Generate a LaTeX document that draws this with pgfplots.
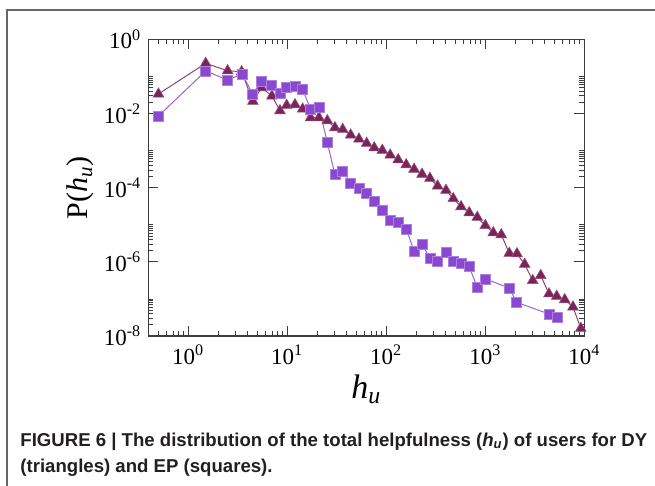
\documentclass[border=0pt]{standalone}
\usepackage{pgfplots}
\pgfplotsset{compat=1.18}
\usepackage{fontspec}
\setmainfont{Liberation Serif}
\newfontfamily\capfont{Liberation Sans}
\definecolor{dycol}{RGB}{122,36,90}
\definecolor{epcol}{RGB}{138,72,208}
\definecolor{axcol}{RGB}{60,60,60}
\definecolor{capcol}{RGB}{35,31,32}
\begin{document}
\begin{tikzpicture}
\useasboundingbox (0,0) rectangle (327.5pt,-243pt);
\draw[gray!80!black, line width=0.8pt] (3.5pt,-250pt) -- (3.5pt,-5pt) -- (340pt,-5pt);
\begin{axis}[
  at={(74.15pt,-168pt)}, anchor=south west,
  scale only axis, width=218pt, height=148.35pt,
  xmode=log, ymode=log,
  xmin=0.395, xmax=10000, ymin=1e-8, ymax=1,
  axis line style={axcol, line width=0.75pt},
  tick style={axcol, line width=0.4pt},
  tick align=inside,
  major tick length=5pt, minor tick length=2.5pt,
  xtick={1,10,100,1000,10000},
  xticklabels={10\textsuperscript{0},10\textsuperscript{1},10\textsuperscript{2},10\textsuperscript{3},10\textsuperscript{4}},
  ytick={1,1e-2,1e-4,1e-6,1e-8},
  yticklabels={10\textsuperscript{0},10\textsuperscript{-2},10\textsuperscript{-4},10\textsuperscript{-6},10\textsuperscript{-8}},
  minor xtick={0.4,0.5,0.6,0.7,0.8,0.9,2,3,4,5,6,7,8,9,20,30,40,50,60,70,80,90,200,300,400,500,600,700,800,900,2000,3000,4000,5000,6000,7000,8000,9000},
  minor ytick={2e-8,3e-8,4e-8,5e-8,6e-8,7e-8,8e-8,9e-8,1e-7,2e-6,3e-6,4e-6,5e-6,6e-6,7e-6,8e-6,9e-6,1e-5,2e-4,3e-4,4e-4,5e-4,6e-4,7e-4,8e-4,9e-4,1e-3,2e-2,3e-2,4e-2,5e-2,6e-2,7e-2,8e-2,9e-2,1e-1},
  tick label style={font=\fontsize{11.5}{12}\selectfont, black},
  xticklabel style={yshift=-1pt},
  xlabel={\fontsize{17}{18}\selectfont\itshape h\textsubscript{u}},
  ylabel={\fontsize{15}{16}\selectfont P(\textit{h}\textsubscript{\textit{u}})},
  xlabel style={yshift=2pt},
  ylabel style={yshift=-2pt},
]
\addplot[color=dycol!85!white, line width=0.5pt, mark=triangle*, mark size=3.1pt,
  mark options={fill=dycol, draw=dycol!80!white, line width=0.3pt}] coordinates {
(0.5,0.0335) (1.5,0.225) (2.5,0.142) (3.46,0.134) (4.5,0.0213) (5.5,0.0496) (7.0,0.0296)
(8.44,0.0119) (9.86,0.0166) (11.97,0.0173) (14.3,0.0132) (17.2,7.69e-3) (20.9,7.69e-3)
(25.4,6.39e-3) (30.3,4.14e-3) (36.3,3.74e-3) (43.7,2.63e-3) (53.0,2.05e-3) (63.4,1.57e-3)
(75.6,1.19e-3) (91.2,1.02e-3) (109.5,7.6e-4) (132,5.67e-4) (159,4.16e-4) (191,3.15e-4)
(230,2.31e-4) (276,1.79e-4) (330,1.11e-4) (401,8.49e-5) (475,5.07e-5) (569,3.07e-5)
(689,2.11e-5) (830,1.59e-5) (1000,9.55e-6) (1205,6.1e-6) (1451,5.4e-6) (1747,1.70e-6)
(2090,1.66e-6) (2500,8.59e-7) (3013,3.14e-7) (3630,4.28e-7) (4400,1.37e-7) (5265,1.18e-7)
(6342,9.53e-8) (7690,6.06e-8) (9220,1.61e-8)
};
\addplot[color=epcol!85!white, line width=0.5pt, mark=square*, mark size=2.5pt,
  mark options={fill=epcol, draw=epcol!70!white, line width=0.3pt}] coordinates {
(0.5,8.55e-3) (1.5,0.140) (2.5,0.080) (3.51,0.116) (4.47,0.0335) (5.51,0.0751) (6.96,0.0561)
(8.44,0.035) (9.86,0.0508) (11.97,0.0551) (14.3,0.0449) (17.2,0.0130) (20.9,0.0147)
(25.4,1.63e-3) (30.3,2.26e-4) (36.3,2.81e-4) (43.7,1.34e-4) (53.0,9.8e-5) (63.4,7.05e-5)
(75.6,4.31e-5) (91.2,2.50e-5) (109.5,1.29e-5) (132,1.16e-5) (159,7.68e-6) (191,1.96e-6)
(230,3.03e-6) (276,1.25e-6) (330,1.05e-6) (401,1.76e-6) (475,1.05e-6) (569,9.14e-7)
(689,7.4e-7) (830,2.01e-7) (1009,3.45e-7) (1747,1.97e-7) (2075,8.11e-8) (4400,3.92e-8)
(5335,3.2e-8)
};
\end{axis}
\node[anchor=base west, inner sep=0pt, text=capcol, font=\capfont\bfseries\fontsize{9.3}{11}\selectfont] at (10pt,-223.5pt)
  {FIGURE 6 | The distribution of the total helpfulness (\textit{h}\textsubscript{\textit{u}}) of users for DY};
\node[anchor=base west, inner sep=0pt, text=capcol, font=\capfont\bfseries\fontsize{9.3}{11}\selectfont] at (10pt,-236.5pt)
  {(triangles) and EP (squares).};
\end{tikzpicture}
\end{document}
